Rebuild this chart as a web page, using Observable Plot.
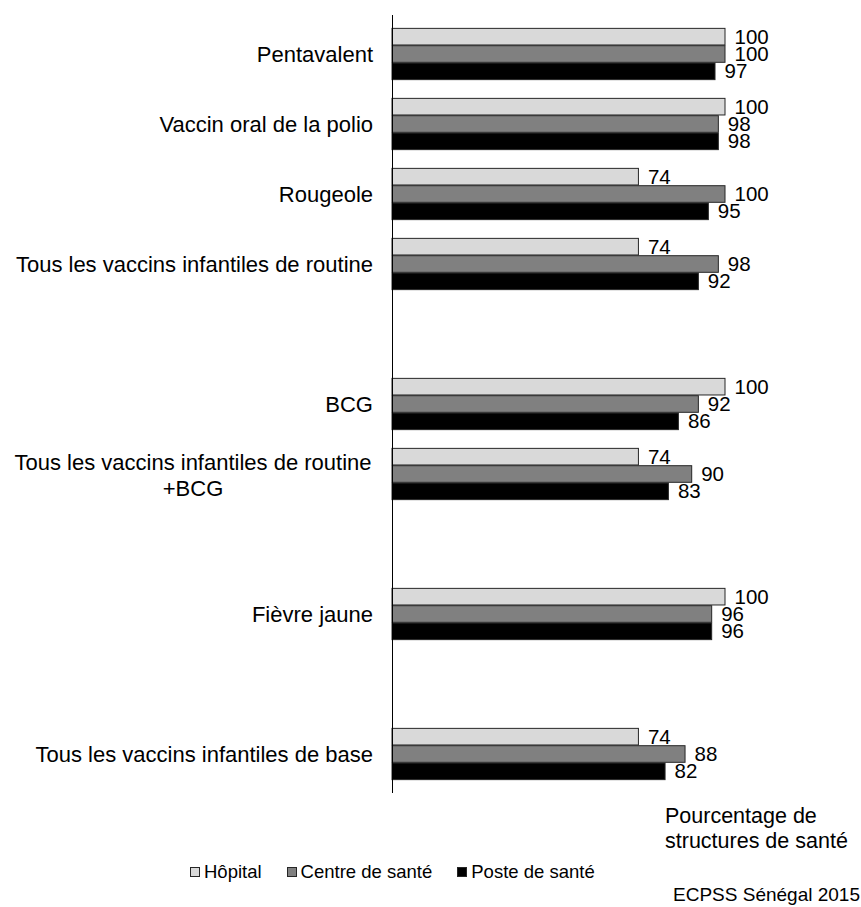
<!DOCTYPE html>
<html>
<head>
<meta charset="utf-8">
<script src="https://cdn.jsdelivr.net/npm/d3@7"></script>
<script src="https://cdn.jsdelivr.net/npm/@observablehq/plot@0.6"></script>
<style>
  html, body { margin: 0; padding: 0; background: #fff; }
  #wrap { position: relative; width: 861px; height: 907px; font-family: "Liberation Sans", Arial, sans-serif; color: #000; }
  #chart svg { display: block; }
  #xlabel { position: absolute; left: 665px; top: 804px; font-size: 21.5px; line-height: 25px; white-space: nowrap; }
  #legend { position: absolute; left: 190px; top: 861px; height: 22px; display: flex; align-items: center; font-size: 18.5px; white-space: nowrap; }
  #legend .item { display: flex; align-items: center; margin-right: 25px; }
  #legend .sw { width: 8px; height: 8px; border: 1px solid #262626; margin-right: 4px; }
  #source { position: absolute; right: 1px; top: 883px; font-size: 19px; line-height: 24px; white-space: nowrap; }
</style>
</head>
<body>
<div id="wrap">
  <div id="chart"></div>
  <div id="xlabel">Pourcentage de<br>structures de santé</div>
  <div id="legend"></div>
  <div id="source">ECPSS Sénégal 2015</div>
</div>
<script>
const categories = [
  "Pentavalent",
  "Vaccin oral de la polio",
  "Rougeole",
  "Tous les vaccins infantiles de routine",
  "BCG",
  "Tous les vaccins infantiles de routine\n+BCG",
  "Fièvre jaune",
  "Tous les vaccins infantiles de base"
];
const hopital     = [100, 100, 74, 74, 100, 74, 100, 74];
const centreSante = [100,  98, 100, 98, 92, 90,  96, 88];
const posteSante  = [ 97,  98, 95, 92, 86, 83,  96, 82];
const seriesNames = ["Hôpital", "Centre de santé", "Poste de santé"];
const seriesColors = ["#d9d9d9", "#808080", "#000000"];
const seriesValues = [hopital, centreSante, posteSante];
// categories followed by an empty slot in the chart
const gapAfter = [
  "Tous les vaccins infantiles de routine",
  "Tous les vaccins infantiles de routine\n+BCG",
  "Fièvre jaune"
];

const domain = categories.flatMap(c => gapAfter.includes(c) ? [c, "gap:" + c] : [c]);

const W = 861, H = 800, mTop = 15, mBottom = 7;
const band = (H - mTop - mBottom) / domain.length;
const bh = 17.33;
const pad = (band - 3 * bh) / 2;

const marks = [];
seriesNames.forEach((s, i) => {
  const rows = categories.map((c, j) => ({category: c, series: s, value: seriesValues[i][j]}));
  marks.push(Plot.barX(rows, {
    x: "value", y: "category",
    fill: seriesColors[i], stroke: "#262626", strokeWidth: 1,
    insetTop: pad + bh * i, insetBottom: pad + bh * (2 - i)
  }));
  marks.push(Plot.text(rows, {
    x: "value", y: "category", text: d => String(d.value),
    dx: 9, dy: (i - 1) * bh, textAnchor: "start", fontSize: 20.5, fill: "#000"
  }));
});
marks.push(Plot.ruleX([0], {stroke: "#000", strokeWidth: 1}));
marks.push(Plot.text(categories.filter(c => !c.includes("\n")), {
  y: d => d, frameAnchor: "left", dx: -19.5, textAnchor: "end", fontSize: 22, fill: "#000"
}));
marks.push(Plot.text(categories.filter(c => c.includes("\n")), {
  y: d => d, frameAnchor: "left", dx: -199.5, textAnchor: "middle", lineHeight: 1.2, fontSize: 22, fill: "#000"
}));

const chart = Plot.plot({
  width: W, height: H,
  marginLeft: 392, marginRight: 136, marginTop: mTop, marginBottom: mBottom,
  x: {domain: [0, 100], axis: null},
  y: {type: "band", domain, padding: 0, axis: null},
  style: {fontFamily: "'Liberation Sans', Arial, sans-serif", background: "#fff", overflow: "visible", color: "#000"},
  marks
});
document.getElementById("chart").appendChild(chart);

const legend = document.getElementById("legend");
seriesNames.forEach((s, i) => {
  const item = document.createElement("div");
  item.className = "item";
  const sw = document.createElement("span");
  sw.className = "sw";
  sw.style.background = seriesColors[i];
  const t = document.createElement("span");
  t.textContent = s;
  item.appendChild(sw); item.appendChild(t);
  legend.appendChild(item);
});
</script>
</body>
</html>
